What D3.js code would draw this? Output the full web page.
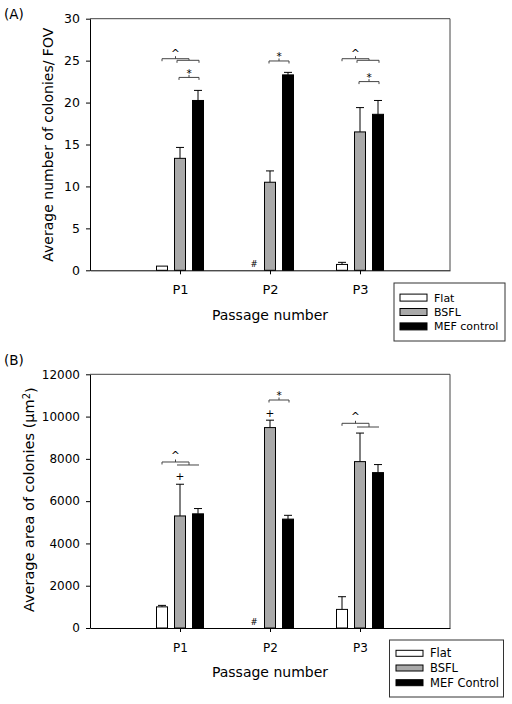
<!DOCTYPE html>
<html>
<head>
<meta charset="utf-8">
<script src="https://cdn.jsdelivr.net/npm/d3@7/dist/d3.min.js"></script>
<style>
  html, body { margin: 0; padding: 0; background: #fff; }
  svg { display: block; }
  text { font-family: "DejaVu Sans", Arial, sans-serif; fill: #000; }
</style>
</head>
<body>
<svg id="chart" width="512" height="704"></svg>
<script>
// ---------------- DATA ----------------
const categories = ["P1", "P2", "P3"];
const seriesA = ["Flat", "BSFL", "MEF control"];
const seriesB = ["Flat", "BSFL", "MEF Control"];

// (A) average number of colonies / FOV
const countFlat = [0.5, 0, 0.7];
const countFlatErr = [0, null, 0.25];
const countBSFL = [13.35, 10.5, 16.5];
const countBSFLErr = [1.3, 1.35, 2.9];
const countMEF = [20.25, 23.3, 18.6];
const countMEFErr = [1.2, 0.3, 1.65];
const countTicks = [0, 5, 10, 15, 20, 25, 30];

// (B) average area of colonies (um^2)
const areaFlat = [1000, 0, 880];
const areaFlatErr = [70, null, 600];
const areaBSFL = [5300, 9480, 7870];
const areaBSFLErr = [1500, 350, 1350];
const areaMEF = [5400, 5150, 7350];
const areaMEFErr = [250, 180, 380];
const areaTicks = [0, 2000, 4000, 6000, 8000, 10000, 12000];

// categories with no colonies (marked "#")
const missingCats = ["P2"];

// significance annotations
const countGroupBrackets = [
  { cat: "P1", level: 25.23, level2: 25.04, label: "^" },
  { cat: "P3", level: 25.23, level2: 25.04, label: "^" }
];
const countPairBrackets = [
  { cat: "P1", level: 23.0, label: "*" },
  { cat: "P2", level: 24.96, label: "*" },
  { cat: "P3", level: 22.5, label: "*" }
];
const areaGroupBrackets = [
  { cat: "P1", level: 7852, level2: 7710, label: "^" },
  { cat: "P3", level: 9682, level2: 9507, label: "^" }
];
const areaPairBrackets = [
  { cat: "P2", level: 10784, label: "*" }
];
const areaPlusMarks = [
  { cat: "P1", level: 7170, label: "+" },
  { cat: "P2", level: 10155, label: "+" }
];

const fills = ["#ffffff", "#a9a9a9", "#000000"];

// ---------------- DRAW ----------------
const svg = d3.select("#chart");
svg.append("rect").attr("width", 512).attr("height", 704).attr("fill", "#fff");

function panel(opt) {
  const g = svg.append("g");
  const x = d3.scaleLinear().domain([0, 4]).range([90, 450]);
  const y = d3.scaleLinear().domain(opt.domain).range([opt.bottom, opt.top]);
  const catIdx = c => categories.indexOf(c) + 1;
  const band = d3.scaleBand().domain(opt.series).range([-23.5, 23.5]).paddingInner(7 / 18).paddingOuter(0);
  const bw = band.bandwidth();
  const bx = (c, s) => x(catIdx(c)) + band(s);
  const bc = (c, s) => bx(c, s) + bw / 2;

  // frame top/right
  g.append("line").attr("x1", x(0)).attr("x2", x(4)).attr("y1", y(opt.domain[1])).attr("y2", y(opt.domain[1]))
    .attr("stroke", "#444").attr("stroke-width", 1);
  g.append("line").attr("x1", x(4)).attr("x2", x(4)).attr("y1", y(opt.domain[1])).attr("y2", y(0))
    .attr("stroke", "#444").attr("stroke-width", 1);

  // bars + error bars
  opt.values.forEach((vals, si) => {
    const s = opt.series[si];
    vals.forEach((v, ci) => {
      const c = categories[ci];
      const err = opt.errors[si][ci];
      if (err === null) return;
      if (err > 0) {
        const xc = bc(c, s);
        g.append("line").attr("x1", xc).attr("x2", xc).attr("y1", y(v)).attr("y2", y(v + err))
          .attr("stroke", "#000").attr("stroke-width", 1);
        g.append("line").attr("x1", xc - 4).attr("x2", xc + 4).attr("y1", y(v + err)).attr("y2", y(v + err))
          .attr("stroke", "#000").attr("stroke-width", 1);
      }
      g.append("rect").attr("x", bx(c, s)).attr("y", y(v)).attr("width", bw).attr("height", y(0) - y(v))
        .attr("fill", fills[si]).attr("stroke", "#000").attr("stroke-width", 1);
    });
  });

  // missing markers
  missingCats.forEach(c => {
    g.append("text").attr("x", bc(c, opt.series[0]) + 2).attr("y", y(0) - 3)
      .attr("text-anchor", "middle").style("font-size", "8.5px").text("#");
  });

  // axes
  const ya = d3.axisLeft(y).tickValues(opt.ticks).tickSize(4).tickSizeOuter(0).tickPadding(6)
    .tickFormat(d3.format("d"));
  const yg = g.append("g").attr("transform", `translate(${x(0)},0)`).call(ya);
  yg.selectAll("text").style("font-size", opt.yTickFont + "px").style("font-family", "DejaVu Sans");
  const xa = d3.axisBottom(x).tickValues([1, 2, 3]).tickSize(4).tickSizeOuter(0).tickPadding(opt.xPad)
    .tickFormat(d => categories[d - 1]);
  const xg = g.append("g").attr("transform", `translate(0,${y(0)})`).call(xa);
  xg.selectAll("text").style("font-size", opt.xTickFont + "px").style("font-family", "DejaVu Sans");
  g.selectAll(".domain").attr("stroke", "#000");
  g.selectAll(".tick line").attr("stroke", "#000");

  // annotations
  const ann = "#444";
  const line = (x1, y1, x2, y2) => g.append("line").attr("x1", x1).attr("y1", y1).attr("x2", x2).attr("y2", y2)
    .attr("stroke", ann).attr("stroke-width", 1);
  opt.groups.forEach(b => {
    const x0 = bc(b.cat, opt.series[0]);
    const x1 = bc(b.cat, opt.series[1]);
    const x2 = bc(b.cat, opt.series[2]);
    const m12 = (x1 + x2) / 2;
    const ya1 = y(b.level), ya2 = y(b.level2);
    line(x0, ya1, m12, ya1);
    line(x0, ya1, x0, ya1 + 2.5);
    line(m12, ya1, m12, ya2);
    line(x1 - 3, ya2, x2 + 1, ya2);
    if (opt.groupEndTicks) { line(x1 - 3, ya2, x1 - 3, ya2 + 2.5); line(x2 + 1, ya2, x2 + 1, ya2 + 2.5); }
    const mc = (x0 + m12) / 2;
    line(mc, ya1, mc, ya1 - 2.5);
    g.append("text").attr("x", mc).attr("y", ya1 - opt.caretGap).attr("text-anchor", "middle")
      .style("font-size", "10.5px").text(b.label);
  });
  opt.pairs.forEach(b => {
    const x1 = bc(b.cat, opt.series[1]) - 1;
    const x2 = bc(b.cat, opt.series[2]) + 1;
    const yl = y(b.level);
    line(x1, yl, x2, yl);
    line(x1, yl, x1, yl + 2.5);
    line(x2, yl, x2, yl + 2.5);
    const m = (x1 + x2) / 2;
    line(m, yl, m, yl - 2.5);
    g.append("text").attr("x", m).attr("y", yl - opt.starGap).attr("text-anchor", "middle")
      .style("font-size", "10.5px").text(b.label);
  });
  (opt.plus || []).forEach(b => {
    g.append("text").attr("x", bc(b.cat, opt.series[1])).attr("y", y(b.level) + 4).attr("text-anchor", "middle")
      .style("font-size", "10.5px").text(b.label);
  });

  // titles
  g.append("text").attr("x", 4).attr("y", opt.panelY).style("font-size", "13.5px").text(opt.panel);
  g.append("text").attr("x", 270).attr("y", opt.xTitleY).attr("text-anchor", "middle")
    .style("font-size", "14px").text("Passage number");
  const yt = g.append("text").attr("transform", `translate(${opt.yTitleX},${opt.yTitleCY}) rotate(-90)`)
    .attr("text-anchor", "middle").style("font-size", opt.yTitleFont + "px");
  opt.yTitle(yt);

  // legend
  const L = opt.legend;
  g.append("rect").attr("x", L.x).attr("y", L.y).attr("width", L.w).attr("height", L.h)
    .attr("fill", "#fff").attr("stroke", "#333").attr("stroke-width", 1);
  opt.series.forEach((s, i) => {
    const cy = L.y + L.first + i * L.step;
    g.append("rect").attr("x", L.x + L.sx).attr("y", cy - L.sh / 2).attr("width", 27).attr("height", L.sh)
      .attr("fill", fills[i]).attr("stroke", "#000").attr("stroke-width", 1);
    g.append("text").attr("x", L.x + L.tx).attr("y", cy).attr("dy", "0.36em").style("font-size", L.font + "px").text(s);
  });
}

panel({
  domain: [0, 30], top: 18.7, bottom: 270.3, ticks: countTicks, series: seriesA,
  values: [countFlat, countBSFL, countMEF], errors: [countFlatErr, countBSFLErr, countMEFErr],
  yTickFont: 12.5, xTickFont: 13, xPad: 10.5,
  groups: countGroupBrackets, pairs: countPairBrackets, groupEndTicks: true, caretGap: 1.5, starGap: 0.5,
  panel: "(A)", panelY: 18.5, xTitleY: 320,
  yTitleX: 53, yTitleCY: 144.7, yTitleFont: 14,
  yTitle: t => t.text("Average number of colonies/ FOV"),
  legend: { x: 394, y: 283, w: 111, h: 58, first: 14.6, step: 14.4, sx: 6, sh: 7, tx: 40, font: 11 }
});

panel({
  domain: [0, 12000], top: 374.3, bottom: 628, ticks: areaTicks, series: seriesB,
  values: [areaFlat, areaBSFL, areaMEF], errors: [areaFlatErr, areaBSFLErr, areaMEFErr],
  yTickFont: 12, xTickFont: 12, xPad: 11,
  groups: areaGroupBrackets, pairs: areaPairBrackets, groupEndTicks: false, caretGap: 3, starGap: 1.5,
  plus: areaPlusMarks,
  panel: "(B)", panelY: 365, xTitleY: 677,
  yTitleX: 34, yTitleCY: 499.7, yTitleFont: 14.5,
  yTitle: t => {
    t.append("tspan").text("Average area of colonies (\u00b5m");
    t.append("tspan").attr("dy", "-0.45em").style("font-size", "10px").text("2");
    t.append("tspan").attr("dy", "0.45em").text(")");
  },
  legend: { x: 389.5, y: 640, w: 114, h: 57, first: 13.3, step: 14.7, sx: 6.5, sh: 6, tx: 40.5, font: 11.5 }
});
</script>
</body>
</html>
